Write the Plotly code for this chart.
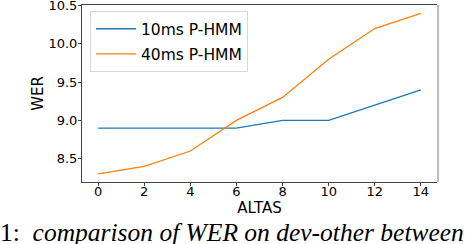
import plotly.graph_objects as go

altas = [0, 2, 4, 6, 8, 10, 12, 14]
wer_10ms = [8.9, 8.9, 8.9, 8.9, 9.0, 9.0, 9.2, 9.4]
wer_40ms = [8.3, 8.4, 8.6, 9.0, 9.3, 9.8, 10.2, 10.4]
names = ["10ms P-HMM", "40ms P-HMM"]
y_ticks = [8.5, 9.0, 9.5, 10.0, 10.5]
caption = "1:  <i>comparison of WER on dev-other between</i>"

fig = go.Figure()
fig.add_trace(go.Scatter(x=altas, y=wer_10ms, mode="lines", name=names[0], legendgroup="a",
                         line=dict(color="#1f77b4", width=1.3)))
fig.add_trace(go.Scatter(x=altas, y=wer_40ms, mode="lines", name=names[1], legendgroup="b",
                         line=dict(color="#ff7f0e", width=1.3)))

axis_common = dict(showline=True, linecolor="#444", linewidth=1,
                   showgrid=False, zeroline=False, ticks="outside", ticklen=3,
                   tickcolor="#444", automargin=False, ticklabeloverflow="allow",
                   tickfont=dict(family="DejaVu Sans", size=13, color="black"))

fig.update_layout(
    width=470, height=244,
    margin=dict(l=82, r=33, t=5, b=62, autoexpand=False),
    plot_bgcolor="white", paper_bgcolor="white",
    font=dict(family="DejaVu Sans", color="black"),
    xaxis=dict(range=[-0.7, 14.7], tickvals=altas, ticktext=[str(v) for v in altas], mirror=True,
               ticklabelstandoff=-6,
               title=dict(text="ALTAS", font=dict(size=15), standoff=2), **axis_common),
    yaxis=dict(range=[8.195, 10.508], tickvals=y_ticks, ticktext=[f"{v:.1f}" for v in y_ticks],
               mirror=False, ticklabelstandoff=-2,
               title=dict(text="WER", font=dict(size=15), standoff=1), **axis_common),
    legend=dict(x=0.0225, y=0.965, xanchor="left", yanchor="top",
                bordercolor="#d8d8d8", borderwidth=1, bgcolor="rgba(255,255,255,0.8)",
                font=dict(size=15.5, family="DejaVu Sans"), traceorder="grouped",
                tracegroupgap=2, itemwidth=40),
    showlegend=True,
)
# right spine (light grey, as in the reference)
fig.add_shape(type="line", xref="paper", yref="paper", x0=1.003, x1=1.003, y0=0, y1=1,
              line=dict(color="#bbbbbb", width=2))
fig.add_annotation(text=caption, xref="paper", yref="paper", x=-0.236, y=-0.285,
                   xanchor="left", yanchor="middle", showarrow=False,
                   font=dict(family="Liberation Serif", size=25.5, color="black"))
fig.write_html("out.html", config={"displayModeBar": False},
               post_script="document.body.style.margin='0';document.body.style.overflow='hidden';")
